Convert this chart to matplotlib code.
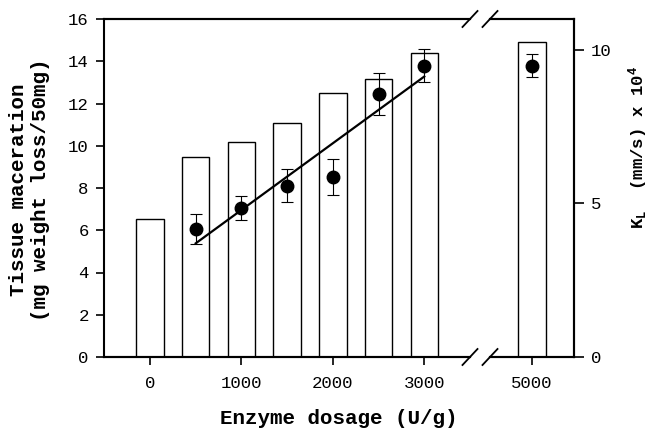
import numpy as np
import matplotlib.pyplot as plt
from matplotlib.lines import Line2D

plt.rcParams['font.family'] = ['Liberation Mono', 'DejaVu Sans']
plt.rcParams['mathtext.fontset'] = 'custom'
plt.rcParams['mathtext.rm'] = 'Liberation Mono:bold'
plt.rcParams['mathtext.it'] = 'Liberation Mono:bold'
plt.rcParams['mathtext.bf'] = 'Liberation Mono:bold'

# data
dosage = np.array([0, 500, 1000, 1500, 2000, 2500, 3000, 5000])
maceration = np.array([6.55, 9.47, 10.19, 11.06, 12.51, 13.14, 14.40, 14.90])
kl_dosage = np.array([500, 1000, 1500, 2000, 2500, 3000, 5000])
kl = np.array([4.16, 4.85, 5.58, 5.85, 8.56, 9.48, 9.48])
kl_err = np.array([0.48, 0.40, 0.55, 0.58, 0.67, 0.53, 0.37])

W, H = 649, 428
fig = plt.figure(figsize=(W / 100, H / 100), dpi=100)
bottom, height = 1 - 357 / H, 338 / H
ax1 = fig.add_axes([104 / W, bottom, 366 / W, height])
ax2 = fig.add_axes([490 / W, bottom, 84 / W, height], sharey=ax1)
ax1b = ax1.twinx()
ax2b = ax2.twinx()

lw = 1.5
for ax, b, lo, hi in [(ax1, ax1b, -503, 3500), (ax2, ax2b, 4540, 5460)]:
    m = (dosage >= lo) & (dosage <= hi)
    ax.bar(dosage[m], maceration[m], width=300, color='white',
           edgecolor='black', linewidth=1.0)
    k = (kl_dosage >= lo) & (kl_dosage <= hi)
    b.errorbar(kl_dosage[k], kl[k], yerr=kl_err[k], fmt='o', color='black',
               markersize=9, elinewidth=0.8, capsize=4, capthick=0.8)
    ax.set_xlim(lo, hi)
    b.set_ylim(0, 11)
    for s in ax.spines.values():
        s.set_linewidth(lw)
    for s in b.spines.values():
        s.set_linewidth(lw)
    ax.tick_params(direction='out', length=6, width=1.2, labelsize=12.5)
    b.tick_params(direction='out', length=7, width=1.2, labelsize=12.5)
    ax.tick_params(axis='x', pad=8)

# linear fit of K_L over 500-3000 U/g
sel = kl_dosage <= 3000
coef = np.polyfit(kl_dosage[sel], kl[sel], 1)
xf = np.array([kl_dosage[sel].min(), kl_dosage[sel].max()])
ax1b.plot(xf, np.polyval(coef, xf), color='black', linewidth=1.6)

ax1.set_ylim(0, 16)
ax1.set_yticks(np.arange(0, 17, 2))
ax1.set_xticks([0, 1000, 2000, 3000])
ax1.tick_params(axis='y', pad=5)
ax1.spines['right'].set_visible(False)
ax1b.spines['right'].set_visible(False)
ax1b.spines['left'].set_visible(False)
ax1b.set_yticks([])

ax2.set_xticks([5000])
ax2.spines['left'].set_visible(False)
ax2b.spines['left'].set_visible(False)
ax2.tick_params(axis='y', left=False, labelleft=False)
ax2b.set_yticks([0, 5, 10])
ax2b.tick_params(axis='y', pad=5)

# break marks
for xc in (470, 490):
    for yc in (19, 357):
        fig.add_artist(Line2D([(xc - 7.5) / W, (xc + 7.5) / W],
                              [1 - (yc + 8) / H, 1 - (yc - 8) / H],
                              transform=fig.transFigure, color='black',
                              linewidth=1.3))

fig.text(339 / W, 1 - 419 / H, 'Enzyme dosage (U/g)', ha='center', va='center',
         fontsize=15, fontweight='bold')
fig.text(29.5 / W, 1 - 190 / H, 'Tissue maceration\n(mg weight loss/50mg)',
         ha='center', va='center', rotation=90, fontsize=15, fontweight='bold',
         multialignment='center')
fig.text(638 / W, 1 - 148 / H, r'K$_\mathrm{L}$  (mm/s) x 10$^4$', ha='center',
         va='center', rotation=90, fontsize=12.5, fontweight='bold')

fig.savefig('out.png', dpi=100)
